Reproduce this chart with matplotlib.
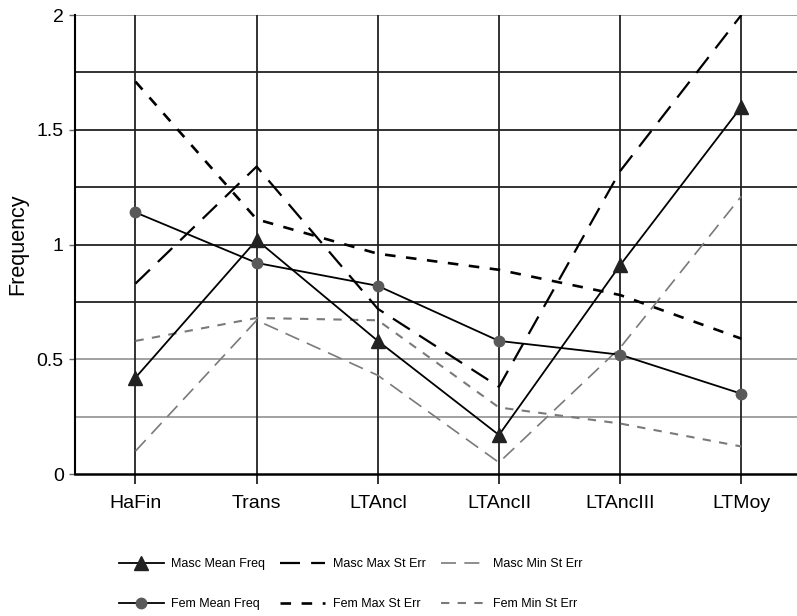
import matplotlib.pyplot as plt
import numpy as np

categories = ["HaFin", "Trans", "LTAncl", "LTAncII", "LTAncIII", "LTMoy"]
masc_mean = [0.42, 1.02, 0.58, 0.17, 0.91, 1.60]
masc_max = [0.83, 1.34, 0.72, 0.38, 1.32, 2.00]
masc_min = [0.10, 0.67, 0.43, 0.05, 0.55, 1.21]
fem_mean = [1.14, 0.92, 0.82, 0.58, 0.52, 0.35]
fem_max = [1.71, 1.11, 0.96, 0.89, 0.78, 0.59]
fem_min = [0.58, 0.68, 0.67, 0.29, 0.22, 0.12]

plt.rcParams['font.family'] = ['Liberation Sans', 'DejaVu Sans']

fig = plt.figure(figsize=(7.97, 6.16), dpi=100)
ax = fig.add_axes([0.094, 0.2305, 0.906, 0.745])
x = np.arange(len(categories))

# grid: light at 0.25/0.5/2, dark elsewhere
for yv in [0.25, 0.5, 0.75, 1.0, 1.25, 1.5, 1.75, 2.0]:
	col = "#9a9a9a" if yv in (0.25, 0.5, 2.0) else "#222222"
	ax.axhline(yv, color=col, lw=1.3, zorder=1)
for xv in x:
	ax.axvline(xv, color="#222222", lw=1.3, zorder=1)

h1, = ax.plot(x, masc_mean, color="black", lw=1.3, marker="^", ms=10, mfc="#222222", mec="#222222", zorder=4, clip_on=False)
h2, = ax.plot(x, fem_mean, color="black", lw=1.3, marker="o", ms=7.5, mfc="#5a5a5a", mec="#5a5a5a", zorder=4)
h3, = ax.plot(x, masc_max, color="black", lw=1.6, dashes=(9, 5), zorder=3)
h4, = ax.plot(x, fem_max, color="black", lw=1.9, dashes=(4, 4), zorder=3)
h5, = ax.plot(x, masc_min, color="#7a7a7a", lw=1.2, dashes=(9, 5), zorder=3)
h6, = ax.plot(x, fem_min, color="#7a7a7a", lw=1.5, dashes=(4, 4), zorder=3)

ax.set_xlim(-0.5, 5.46)
ax.set_ylim(0, 2)
ax.set_xticks(x)
ax.set_xticklabels(categories, fontsize=14)
ax.set_yticks([0, 0.5, 1, 1.5, 2])
ax.set_yticklabels(["0", "0.5", "1", "1.5", "2"], fontsize=14)
ax.tick_params(axis="x", length=7, width=1.3, color="#222222", pad=8)
ax.tick_params(axis="y", length=4, width=1, color="#666666", pad=4)
ax.set_ylabel("Frequency", fontsize=15.5, labelpad=6)
for s in ["top", "right"]:
	ax.spines[s].set_visible(False)
ax.spines["left"].set_linewidth(1.5)
ax.spines["bottom"].set_linewidth(1.8)

leg = fig.legend([h1, h2, h3, h4, h5, h6],
	["Masc Mean Freq", "Fem Mean Freq", "Masc Max St Err", "Fem Max St Err", "Masc Min St Err", "Fem Min St Err"],
	ncol=3, loc="center left", bbox_to_anchor=(0.135, 0.052), frameon=False, fontsize=9,
	handlelength=3.6, handletextpad=0.6, columnspacing=1.2, labelspacing=2.25)

fig.savefig("out.png", dpi=100)
